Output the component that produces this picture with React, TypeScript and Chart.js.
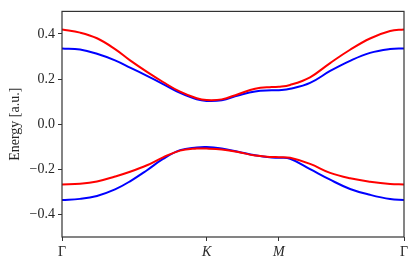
import React, { useEffect, useRef } from "react";
import { Chart, registerables } from "chart.js";

Chart.register(...registerables);

// Path coordinate along Γ–K–M–Γ
const kPos = [0, 0.125, 0.242, 0.367, 0.471, 0.588, 0.699, 0.817, 0.932, 1.0, 1.105, 1.218, 1.336, 1.451, 1.5, 1.578, 1.716, 1.855, 1.993, 2.131, 2.27, 2.366];
const redUpper = [0.42, 0.406, 0.381, 0.333, 0.283, 0.232, 0.187, 0.144, 0.115, 0.107, 0.11, 0.133, 0.157, 0.165, 0.166, 0.174, 0.208, 0.271, 0.33, 0.38, 0.413, 0.42];
const blueUpper = [0.336, 0.331, 0.312, 0.283, 0.251, 0.214, 0.178, 0.139, 0.11, 0.103, 0.106, 0.127, 0.145, 0.15, 0.151, 0.157, 0.183, 0.236, 0.281, 0.316, 0.333, 0.336];
const redLower = [-0.267, -0.264, -0.254, -0.232, -0.211, -0.182, -0.147, -0.117, -0.108, -0.108, -0.112, -0.123, -0.139, -0.145, -0.146, -0.149, -0.176, -0.216, -0.24, -0.255, -0.265, -0.267];
const blueLower = [-0.336, -0.331, -0.318, -0.289, -0.253, -0.204, -0.154, -0.115, -0.103, -0.101, -0.108, -0.122, -0.138, -0.148, -0.149, -0.153, -0.199, -0.246, -0.287, -0.313, -0.332, -0.336];

const xTickPos = [0, 1, 1.5, 2.366];
const xTickLabels = ["Γ", "K", "M", "Γ"];
const xTickItalic = [false, true, true, false];
const yTickPos = [-0.4, -0.2, 0, 0.2, 0.4];
const yTitle = "Energy [a.u.]";

const FONT = "'Liberation Serif', 'DejaVu Serif', serif";
const INK = "#262626";

const pts = (ys: number[]) => kPos.map((x, i) => ({ x, y: ys[i] }));

const boxPlugin = {
  id: "box",
  afterDraw(chart: any) {
    const { ctx, chartArea } = chart;
    ctx.save();
    ctx.strokeStyle = "#333";
    ctx.lineWidth = 1.2;
    ctx.strokeRect(chartArea.left, chartArea.top, chartArea.right - chartArea.left, chartArea.bottom - chartArea.top);
    ctx.restore();
  },
};

export default function App() {
  const ref = useRef<HTMLCanvasElement>(null);
  useEffect(() => {
    if (!ref.current) return;
    const line = (data: number[], color: string) => ({
      data: pts(data),
      borderColor: color,
      backgroundColor: color,
      borderWidth: 2,
      pointRadius: 0,
      fill: false,
      tension: 0.4,
    });
    const chart = new Chart(ref.current, {
      type: "line",
      data: {
        datasets: [
          line(redUpper, "#ff0000"),
          line(redLower, "#ff0000"),
          line(blueUpper, "#0000ff"),
          line(blueLower, "#0000ff"),
        ],
      },
      options: {
        animation: false,
        responsive: false,
        events: [],
        layout: { padding: { top: 6, right: 12, left: 0, bottom: 0 } },
        plugins: { legend: { display: false }, tooltip: { enabled: false } },
        scales: {
          x: {
            type: "linear",
            min: 0,
            max: 2.366,
            afterBuildTicks: (s: any) => {
              s.ticks = xTickPos.map((v) => ({ value: v }));
            },
            afterFit: (s: any) => {
              s.height = 27;
            },
            ticks: {
              autoSkip: false,
              maxRotation: 0,
              padding: 3,
              color: INK,
              font: (c: any) => ({ family: FONT, size: 14, style: xTickItalic[c.index] ? "italic" : "normal" }),
              callback: (_v: any, i: number) => xTickLabels[i],
            },
            grid: { display: true, drawOnChartArea: false, drawTicks: true, tickLength: 4, tickColor: "#333", tickWidth: 1 },
            border: { display: false },
          },
          y: {
            type: "linear",
            min: -0.5,
            max: 0.5,
            afterBuildTicks: (s: any) => {
              s.ticks = yTickPos.map((v) => ({ value: v }));
            },
            afterFit: (s: any) => {
              s.width = 62;
            },
            ticks: {
              autoSkip: false,
              padding: 3,
              color: INK,
              font: { family: FONT, size: 14 },
              callback: (v: any) => Number(v).toFixed(1).replace("-", "−"),
            },
            grid: { display: true, drawOnChartArea: false, drawTicks: true, tickLength: 4, tickColor: "#333", tickWidth: 1 },
            border: { display: false },
            title: { display: true, text: yTitle, color: INK, font: { family: FONT, size: 14 }, padding: { top: 7, bottom: 0 } },
          },
        },
      },
      plugins: [boxPlugin],
    });
    return () => chart.destroy();
  }, []);
  return (
    <div style={{ position: "absolute", left: 0, top: 0, width: 416, height: 264, background: "#fff" }}>
      <canvas ref={ref} width={416} height={264} />
    </div>
  );
}
